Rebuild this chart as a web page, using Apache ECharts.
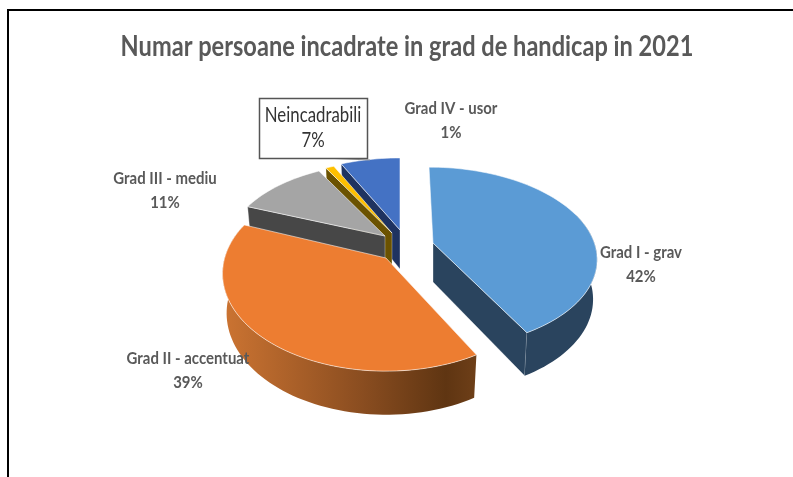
<!DOCTYPE html>
<html><head><meta charset="utf-8">
<style>html,body{margin:0;padding:0;background:#fff}#c{width:793px;height:477px}</style>
<script src="https://cdn.jsdelivr.net/npm/echarts@6/dist/echarts.min.js"></script>
</head><body><div id="c"></div>
<script>
const chartTitle = 'Numar persoane incadrate in grad de handicap in 2021';
const categories = ['Grad I - grav','Grad II - accentuat','Grad III - mediu','Grad IV - usor','Neincadrabili'];
const shares = [42, 39, 11, 1, 7];

const FONT = 'Lato,"Open Sans",sans-serif';
const topColors = ['#5B9BD5','#ED7D31','#A5A5A5','#FFC000','#4472C4'];
const wallColors = ['#2A445E','#5F3512','#474747','#6B5200','#1F3360'];
const apexX = [433,386,385,392,400];
const apexY = [243,258,236,233,230];
const scaleX = [.99,.99,.96,.96,.97];
const scaleY = [1,1.08,.96,.96,.95];
const shearX = [4,0,0,0,0];
const drawOrder = [4,3,2,0,1];
const labelX = [641,188,165,451,313];
const labelY = [265,371,191,121,128];
const RX=163, RY=88, PERSP=.16, DEPTH=39, BOTTOM=.975;

const total = shares.reduce((a,b)=>a+b,0);
const starts = []; { let acc=0; shares.forEach(v=>{starts.push(acc/total*360); acc+=v;}); }
const rad = d=>d*Math.PI/180;
function topPt(i,a){const X=Math.sin(rad(a)),Y=Math.cos(rad(a)),s=1/(1+PERSP*Y);
  return [apexX[i]+X*RX*s*scaleX[i]-Y*shearX[i], apexY[i]-Y*RY*s*scaleY[i]];}
function botPt(i,a){const X=Math.sin(rad(a)),Y=Math.cos(rad(a)),s=1/(1+PERSP*Y);
  return [apexX[i]+X*RX*s*scaleX[i]*BOTTOM-Y*shearX[i], apexY[i]-Y*RY*s*scaleY[i]*BOTTOM+DEPTH*s];}
function arc(fn,i,a,b){const p=[];const n=Math.max(2,Math.ceil((b-a)/2));
  for(let k=0;k<=n;k++)p.push(fn(i,a+(b-a)*k/n));return p;}

function renderItem(params,api){
  const i=api.value(0), a=starts[i], b=a+api.value(1)/total*360;
  const edge='rgba(255,255,255,.55)';
  const children=[];
  const wall=(ang)=>{const apexTop=[apexX[i],apexY[i]],apexBot=[apexX[i],apexY[i]+DEPTH];
    children.push({type:'polygon',shape:{points:[apexTop,topPt(i,ang),botPt(i,ang),apexBot]},
      style:{fill:wallColors[i],stroke:edge,lineWidth:.6}});};
  if(Math.sin(rad(a))<-1e-6) wall(a);
  if(Math.sin(rad(b))>1e-6) wall(b);
  const ra=Math.max(a,70), rb=Math.min(b,290);
  if(rb>ra){
    const pts=arc(topPt,i,ra,rb).concat(arc(botPt,i,ra,rb).reverse());
    const fill = i===1 ? new echarts.graphic.LinearGradient(0,0,1,0,[
      {offset:0,color:'#CC7432'},{offset:.55,color:'#8A4D20'},{offset:.88,color:'#5F3512'},{offset:1,color:'#6E3F18'}]) : wallColors[i];
    children.push({type:'polygon',shape:{points:pts},style:{fill:fill}});
  }
  const top=[[apexX[i],apexY[i]]].concat(arc(topPt,i,a,b));
  children.push({type:'polygon',shape:{points:top},style:{fill:topColors[i],stroke:edge,lineWidth:1}});
  return {type:'group',children};
}

const labelEls = categories.map((c,i)=>{
  const t=c+'\n'+shares[i]+'%';
  if(i===4) return {type:'text',z:20,x:labelX[i],y:labelY[i],scaleX:.8,
    style:{text:t,fill:'#333',font:'21px '+FONT,align:'center',verticalAlign:'middle',lineHeight:25}};
  return {type:'text',z:20,x:labelX[i],y:labelY[i],scaleX:.88,
    style:{text:t,fill:'#595959',font:'bold 17px '+FONT,align:'center',verticalAlign:'middle',lineHeight:24}};
});

const chart=echarts.init(document.getElementById('c'),null,{renderer:'canvas'});
chart.setOption({
  animation:false,
  backgroundColor:'#fff',
  series:[{type:'custom',coordinateSystem:'none',silent:true,renderItem,
    data:drawOrder.map(i=>[i,shares[i]])}],
  graphic:[
    {type:'text',z:20,x:407,y:47,scaleX:.843,style:{text:chartTitle,fill:'#595959',font:'bold 28px '+FONT,align:'center',verticalAlign:'middle'}},
    {type:'polyline',z:10,shape:{points:[[8,477],[8,10],[793,10]]},style:{stroke:'#000',lineWidth:2,fill:null}},
    {type:'polyline',z:10,shape:{points:[[323,158],[370,160]]},style:{stroke:'#999',lineWidth:1,fill:null}},
    {type:'rect',z:15,shape:{x:259.5,y:98.5,width:108,height:60},style:{fill:'#fff',stroke:'#555',lineWidth:1.5}},
    ...labelEls
  ]
});
</script></body></html>
